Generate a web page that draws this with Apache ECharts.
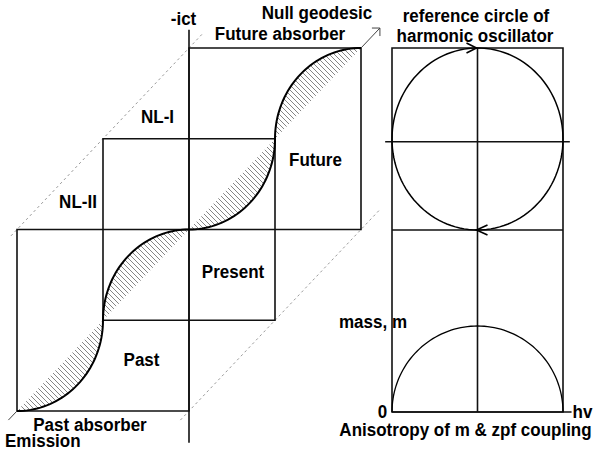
<!DOCTYPE html>
<html><head><meta charset="utf-8">
<script src="https://cdn.jsdelivr.net/npm/echarts@6/dist/echarts.min.js"></script>
<style>html,body{margin:0;padding:0;background:#fff}#c{width:606px;height:452px}</style>
</head><body><div id="c"></div>
<script>
// ---------- data (diagram units) ----------
// left: space-time diagram, u (horizontal) 0..4, v (time) 0..4
const diagNodes = [0, 1, 2, 3, 4];
const bendSides = ['below', 'above', 'below', 'above'];
const spaceTimeBoxes = [[0, 0, 2, 2], [1, 1, 3, 3], [2, 2, 4, 4]];
const timeAxisLine = [[2, -0.35], [2, 4.2]];
const nullGeodesicTail = [[-0.1, -0.1], [0, 0]];
const nullGeodesicHead = [[4, 4], [4.22, 4.22]];
const coneUpper = [[-0.07, 1.93], [2.15, 4.15]];
const coneLower = [[1.9, -0.1], [4.22, 2.22]];
// right: oscillator diagram, x 0..2, y 0..4
const oscBox = [0, 0, 2, 4];
const oscMidline = [[1, 0], [1, 4]];
const oscDivider = [[0, 2], [2, 2]];
const oscCross = [[-0.08, 2.97], [2.08, 2.97]];
const hvAxis = [[0, 0], [2.1, 0]];
const refCircle = [1, 3, 1, 1];      // cx, cy, rx, ry
const massArc = [1, 0, 1, 0.945];    // cx, cy, rx, ry (upper half)
// labels
const labelTexts = ['-ict', 'Null geodesic', 'Future absorber', 'NL-I', 'NL-II', 'Future', 'Present', 'Past',
  'Past absorber', 'Emission', 'reference circle of', 'harmonic oscillator', 'mass, m', '0', 'hv',
  'Anisotropy of m & zpf coupling'];

// ---------- layout / style ----------
const labelPos = [[183.5, 19], [317, 12.5], [280, 34], [157.5, 116.5], [78, 201.5], [315.5, 160], [233, 271.5], [141.5, 360],
  [90, 425], [5, 441, 'left'], [476, 15.5], [475, 35.5], [373, 321.5], [382.5, 411.5], [582.5, 411.5], [465.5, 429.5]];
const FONT = 'bold 18.5px "Liberation Sans", Arial, sans-serif';
const BOX = { stroke: '#111', lineWidth: 1.6, fill: null };
const DASH = { stroke: '#999', lineWidth: 1, lineDash: [2.5, 3], fill: null };

const T = 5;
const hc = document.createElement('canvas'); hc.width = T; hc.height = T;
const g = hc.getContext('2d'); g.strokeStyle = '#666'; g.lineWidth = 0.8;
g.beginPath(); g.moveTo(-1, -1); g.lineTo(T + 1, T + 1); g.moveTo(-1, T - 1); g.lineTo(1, T + 1); g.moveTo(T - 1, -1); g.lineTo(T + 1, 1); g.stroke();
const hatch = { image: hc.toDataURL(), repeat: 'repeat', imageWidth: T, imageHeight: T };

function ln(api, p, q, style) {
  const a = api.coord(p), b = api.coord(q);
  return { type: 'line', shape: { x1: a[0], y1: a[1], x2: b[0], y2: b[1] }, style: Object.assign({}, style) };
}
function rect(api, r, style) {
  const a = api.coord([r[0], r[3]]), b = api.coord([r[2], r[1]]);
  return { type: 'rect', shape: { x: a[0], y: a[1], width: b[0] - a[0], height: b[1] - a[1] }, style: Object.assign({}, style) };
}
function segPoints(i, n) {
  const a = diagNodes[i], pts = [];
  for (let k = 0; k <= n; k++) {
    const t = k / n * Math.PI / 2;
    if (bendSides[i] === 'below') pts.push([a + Math.sin(t), a + 1 - Math.cos(t)]);
    else pts.push([a + 1 - Math.cos(t), a + Math.sin(t)]);
  }
  return pts;
}
function ellipsePts(api, e, a0, a1, n) {
  const pts = [];
  for (let k = 0; k <= n; k++) {
    const t = a0 + (a1 - a0) * k / n;
    pts.push(api.coord([e[0] + e[2] * Math.cos(t), e[1] + e[3] * Math.sin(t)]));
  }
  return pts;
}

function renderLeft(params, api) {
  const ch = [];
  for (let i = 0; i < bendSides.length; i++) {
    ch.push({ type: 'polygon', shape: { points: segPoints(i, 40).map(p => api.coord(p)) }, style: { fill: hatch, stroke: null } });
  }
  ch.push(ln(api, coneUpper[0], coneUpper[1], DASH));
  ch.push(ln(api, coneLower[0], coneLower[1], DASH));
  spaceTimeBoxes.forEach(b => ch.push(rect(api, b, BOX)));
  ch.push(ln(api, timeAxisLine[0], timeAxisLine[1], BOX));
  const thin = { stroke: '#444', lineWidth: 1 };
  ch.push(ln(api, nullGeodesicTail[0], nullGeodesicTail[1], thin));
  ch.push(ln(api, nullGeodesicHead[0], nullGeodesicHead[1], thin));
  const tip = api.coord(nullGeodesicHead[1]);
  ch.push({ type: 'polyline', shape: { points: [[tip[0] - 8, tip[1]], tip, [tip[0], tip[1] + 8]] }, style: { stroke: '#444', lineWidth: 1, fill: null } });
  let all = [];
  for (let i = 0; i < bendSides.length; i++) all = all.concat(segPoints(i, 40));
  ch.push({ type: 'polyline', shape: { points: all.map(p => api.coord(p)) }, style: { stroke: '#000', lineWidth: 2, fill: null } });
  return { type: 'group', children: ch };
}

function renderRight(params, api) {
  const ch = [];
  ch.push(rect(api, oscBox, BOX));
  ch.push(ln(api, oscMidline[0], oscMidline[1], BOX));
  ch.push(ln(api, oscDivider[0], oscDivider[1], BOX));
  ch.push(ln(api, oscCross[0], oscCross[1], BOX));
  ch.push(ln(api, hvAxis[0], hvAxis[1], BOX));
  ch.push({ type: 'polyline', shape: { points: ellipsePts(api, refCircle, 0, Math.PI * 2, 120) }, style: { stroke: '#000', lineWidth: 1.5, fill: null } });
  ch.push({ type: 'polyline', shape: { points: ellipsePts(api, massArc, 0, Math.PI, 80) }, style: { stroke: '#000', lineWidth: 1.3, fill: null } });
  const top = api.coord([refCircle[0], refCircle[1] + refCircle[3]]);
  const bot = api.coord([refCircle[0], refCircle[1] - refCircle[3]]);
  const ar = { stroke: '#000', lineWidth: 1.6, fill: null };
  ch.push({ type: 'polyline', shape: { points: [[top[0] - 11, top[1] - 5], [top[0] - 1, top[1]], [top[0] - 11, top[1] + 5]] }, style: ar });
  ch.push({ type: 'polyline', shape: { points: [[bot[0] + 10, bot[1] - 5], [bot[0] - 1, bot[1]], [bot[0] + 10, bot[1] + 5]] }, style: ar });
  return { type: 'group', children: ch };
}

const chart = echarts.init(document.getElementById('c'), null, { renderer: 'svg' });
chart.setOption({
  backgroundColor: '#fff',
  animation: false,
  grid: [
    { left: 17, top: 48, width: 344, height: 363 },
    { left: 392, top: 48, width: 171, height: 364 }
  ],
  xAxis: [
    { type: 'value', gridIndex: 0, min: 0, max: 4, show: false },
    { type: 'value', gridIndex: 1, min: 0, max: 2, show: false }
  ],
  yAxis: [
    { type: 'value', gridIndex: 0, min: 0, max: 4, show: false },
    { type: 'value', gridIndex: 1, min: 0, max: 4, show: false }
  ],
  series: [
    { type: 'custom', xAxisIndex: 0, yAxisIndex: 0, clip: false, silent: true, data: [[0, 0]], renderItem: renderLeft },
    { type: 'custom', xAxisIndex: 1, yAxisIndex: 1, clip: false, silent: true, data: [[0, 0]], renderItem: renderRight }
  ],
  graphic: labelTexts.map((t, i) => ({
    type: 'text', x: labelPos[i][0], y: labelPos[i][1], scaleX: 0.92, silent: true, z: 10,
    style: { text: t, font: FONT, fill: '#000', align: labelPos[i][2] || 'center', verticalAlign: 'middle' }
  }))
});
</script></body></html>
